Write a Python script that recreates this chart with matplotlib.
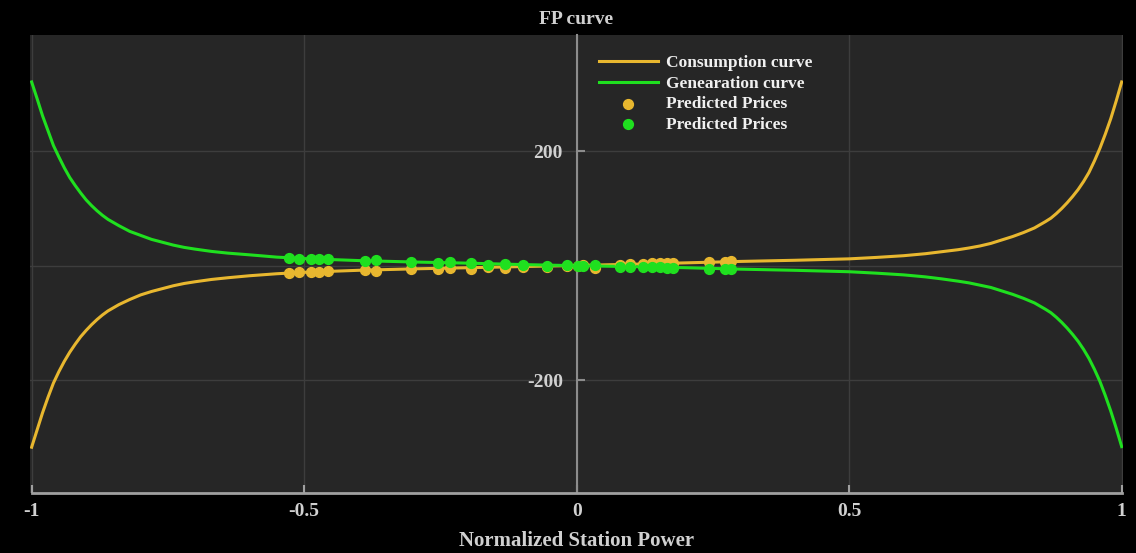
import numpy as np
import matplotlib.pyplot as plt

# FP curve data
power = [-1.00, -0.99, -0.98, -0.97, -0.96, -0.95, -0.94, -0.93, -0.92, -0.91,
         -0.90, -0.89, -0.88, -0.87, -0.86, -0.84, -0.82, -0.80, -0.78, -0.76,
         -0.74, -0.72, -0.70, -0.67, -0.64, -0.60, -0.55, -0.50, -0.40, -0.30,
         -0.20, -0.10, 0.00, 0.10, 0.20, 0.30, 0.40, 0.50, 0.55, 0.60,
         0.64, 0.67, 0.70, 0.72, 0.74, 0.76, 0.78, 0.80, 0.82, 0.84,
         0.86, 0.87, 0.88, 0.89, 0.90, 0.91, 0.92, 0.93, 0.94, 0.95,
         0.96, 0.97, 0.98, 0.99, 1.00]
consumption = [-317, -287, -257, -230, -205, -185, -167, -151, -137, -124,
               -113, -103, -94, -86, -79, -68, -59, -51, -45, -40,
               -35, -31, -28, -24, -21, -17.5, -14, -11.5, -8, -5.5,
               -3.5, -1.5, 0.5, 2.5, 5, 7.5, 9.5, 12, 14.5, 17.5,
               21, 24.5, 28, 31, 34.5, 39, 45, 51, 58, 66,
               77, 83, 91, 100, 110, 121, 133, 147, 163, 183,
               205, 230, 257, 288, 321]
generation = [321, 292, 262, 236, 210, 190, 171, 154, 140, 127,
              115, 105, 96, 88, 81, 70, 60, 53, 46, 41,
              36, 32, 29, 25, 22, 19, 15, 12.5, 9, 6.5,
              4.5, 2, 0, -1.5, -3.5, -6, -8, -10.5, -13, -16,
              -19.5, -23, -27, -30, -34, -38, -44, -50, -57, -65,
              -76, -82, -90, -99, -109, -120, -132, -146, -162, -181,
              -202, -227, -254, -284, -316]

# predicted prices
pred_x = [-0.527, -0.510, -0.487, -0.473, -0.457, -0.388, -0.368, -0.304, -0.254, -0.232,
          -0.193, -0.162, -0.132, -0.098, -0.055, -0.018, 0.003, 0.012, 0.034, 0.080,
          0.098, 0.122, 0.138, 0.153, 0.165, 0.177, 0.242, 0.272, 0.284]
pred_cons = [-12, -11.5, -11, -11, -10, -8, -9, -5.5, -6, -4,
             -5, -2.5, -4, -1.5, -3, 0, -1, 1, -4, 2,
             2.5, 3, 4, 4, 4, 5, 6, 7, 7.5]
pred_gen = [13, 12, 12, 12, 11, 9, 10, 6.5, 4, 6,
            4.5, 1, 3.5, 2, -1, 1.5, 0, -1, 1, -1.5,
            -2, -2.5, -3, -3, -3.5, -3.5, -5, -5.5, -6]

orange = '#e8b72f'
green = '#1fe01f'
txt = '#d0d0d0'

plt.rcParams['font.family'] = ['Liberation Serif', 'DejaVu Serif']
plt.rcParams['font.weight'] = 'bold'

fig = plt.figure(figsize=(11.36, 5.53), dpi=100, facecolor='black')
ax = fig.add_axes([0.0264, 0.1085, 0.9622, 0.8282])
ax.set_facecolor('#262626')

ax.plot(power, consumption, color=orange, lw=2.2, label='Consumption curve', zorder=3)
ax.plot(power, generation, color=green, lw=2.2, label='Genearation curve', zorder=3)
ax.scatter(pred_x, pred_cons, s=50, color=orange, label='Predicted Prices', zorder=4)
ax.scatter(pred_x, pred_gen, s=50, color=green, label='Predicted Prices', zorder=5)

ax.set_xlim(-1.003, 1.0025)
ax.set_ylim(-397, 403)

ax.set_xticks([-1, -0.5, 0, 0.5, 1], ['-1', '-0.5', '0', '0.5', '1'])
ax.set_yticks([-200, 0, 200], ['-200', '', '200'])
ax.grid(True, color='#3d3d3d', lw=1)
ax.set_axisbelow(True)

for s in ['top', 'right']:
    ax.spines[s].set_visible(False)
ax.spines['left'].set_position(('data', 0))
ax.spines['left'].set_color('#8c8c8c')
ax.spines['left'].set_linewidth(1.5)
ax.spines['bottom'].set_color('#a0a0a0')
ax.spines['bottom'].set_linewidth(2)
ax.spines['bottom'].set_bounds(-1, 1)

ax.tick_params(axis='x', direction='in', length=6, width=1.5, color='#a0a0a0',
               labelcolor=txt, labelsize=14, pad=7)
ax.tick_params(axis='y', direction='in', length=6, width=1.5, color='#8c8c8c',
               labelcolor=txt, labelsize=14, pad=10)

ax.set_title('FP curve', color=txt, fontsize=14, fontweight='bold', pad=8)
ax.set_xlabel('Normalized Station Power', color=txt, fontsize=15, fontweight='bold', labelpad=8)

leg = ax.legend(loc='upper left', bbox_to_anchor=(0.506, 0.99), frameon=False,
                handlelength=3.4, handletextpad=0.5, labelspacing=0.25,
                prop={'weight': 'bold', 'size': 12.5})
for t in leg.get_texts():
    t.set_color('#f0f0f0')

fig.savefig('out.png', dpi=100, facecolor='black')
